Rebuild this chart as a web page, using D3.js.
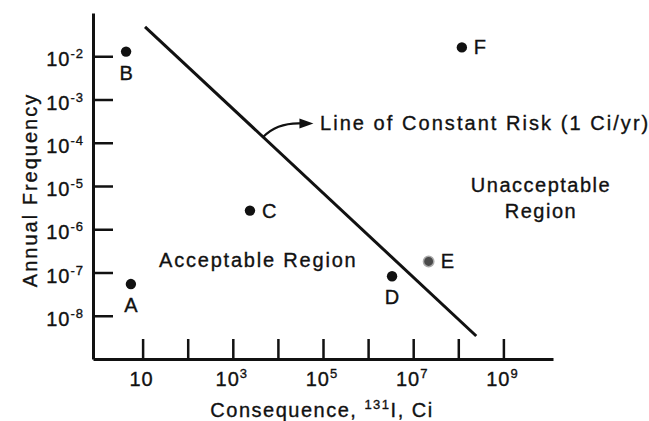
<!DOCTYPE html>
<html>
<head>
<meta charset="utf-8">
<title>Constant risk</title>
<script src="https://cdn.jsdelivr.net/npm/d3@7"></script>
<style>
  body { margin: 0; background: #fff; }
  svg text { font-family: "Liberation Sans", Arial, Helvetica, sans-serif; fill: #111; stroke: #111; stroke-width: 0.35px; }
</style>
</head>
<body>
<svg id="chart" width="649" height="421"></svg>
<script>
// data
var pointNames = ["A", "B", "C", "D", "E", "F"];
var consequence = [5.5, 4.3, 2400, 3.4e6, 2.2e7, 1.2e8];       // Ci
var frequency   = [5.4e-8, 1.28e-2, 2.7e-6, 8.2e-8, 1.8e-7, 1.6e-2]; // per yr
var labelSide   = ["below", "below", "right", "below", "right", "right"];

var riskLineX = [11.3, 2.5e8];
var riskLineY = [4.8e-2, 3.4e-9];

var yTickExp = [-2, -3, -4, -5, -6, -7, -8];
var xTickExp = [1, 2, 3, 4, 5, 6, 7, 8, 9];
var xLabelExp = [1, 3, 5, 7, 9];

var svg = d3.select("#chart");

var x = d3.scaleLog().domain([Math.pow(10, -0.1), Math.pow(10, 10.1)]).range([93, 553]);
var y = d3.scaleLog().domain([1e-9, 1e-1]).range([359, 13]);

/* axes: ticks point inward, labels drawn separately (superscripts) */
var gy = svg.append("g").attr("transform", "translate(93,0)")
  .call(d3.axisLeft(y)
    .tickValues(yTickExp.map(function(e) { return Math.pow(10, e); }))
    .tickSizeInner(-20).tickSizeOuter(0).tickFormat(function() { return ""; }));

var gx = svg.append("g").attr("transform", "translate(0,359)")
  .call(d3.axisBottom(x)
    .tickValues(xTickExp.map(function(e) { return Math.pow(10, e); }))
    .tickSizeInner(-20).tickSizeOuter(0).tickFormat(function() { return ""; }));

svg.selectAll(".domain").attr("stroke", "#111").attr("stroke-width", 3);
svg.selectAll(".tick line").attr("stroke", "#111").attr("stroke-width", 2.5);

// y tick labels
yTickExp.forEach(function(e) {
  var t = svg.append("text")
    .attr("x", 84).attr("y", y(Math.pow(10, e)) + 10)
    .attr("text-anchor", "end")
    .style("font-size", "20px").style("letter-spacing", "1px");
  t.append("tspan").text("10");
  t.append("tspan").attr("dy", -8).style("font-size", "13px").text(String(e));
});

// x tick labels
xLabelExp.forEach(function(e) {
  var t = svg.append("text")
    .attr("x", x(Math.pow(10, e)) - 1).attr("y", 386)
    .attr("text-anchor", "middle")
    .style("font-size", "20px").style("letter-spacing", "1px");
  t.append("tspan").text("10");
  if (e !== 1) t.append("tspan").attr("dy", -8).style("font-size", "13px").text(String(e));
});

// axis titles
svg.append("text")
  .attr("transform", "translate(37,190) rotate(-90)")
  .attr("text-anchor", "middle")
  .style("font-size", "20px").style("letter-spacing", "2px")
  .text("Annual Frequency");

var xt = svg.append("text")
  .attr("x", 322).attr("y", 417)
  .attr("text-anchor", "middle")
  .style("font-size", "20px").style("letter-spacing", "1.5px");
xt.append("tspan").text("Consequence, ");
xt.append("tspan").attr("dy", -8).style("font-size", "13px").text("131");
xt.append("tspan").attr("dy", 8).text("I, Ci");

// line of constant risk
var line = d3.line()
  .x(function(d) { return x(d[0]); })
  .y(function(d) { return y(d[1]); });

svg.append("path")
  .datum(d3.zip(riskLineX, riskLineY))
  .attr("d", line)
  .attr("fill", "none").attr("stroke", "#111").attr("stroke-width", 3);

// annotation arrow from the line to its label
var arrowX = 4700;
var ax0 = x(arrowX), ay0 = y(riskLineY[0] * Math.pow(arrowX / riskLineX[0],
  Math.log(riskLineY[1] / riskLineY[0]) / Math.log(riskLineX[1] / riskLineX[0])));
var ax1 = x(5.0e4), ay1 = y(2.8e-4);

svg.append("path")
  .attr("d", "M" + ax0 + "," + ay0 + " Q" + (ax0 + 14) + "," + (ay1 - 1) + " " + (ax1 - 8) + "," + ay1)
  .attr("fill", "none").attr("stroke", "#111").attr("stroke-width", 2.2);
svg.append("path")
  .attr("d", "M" + (ax1 + 4) + "," + ay1 + " L" + (ax1 - 10) + "," + (ay1 - 5) + " L" + (ax1 - 10) + "," + (ay1 + 5) + "Z")
  .attr("fill", "#111");

svg.append("text")
  .attr("x", 320).attr("y", 130)
  .style("font-size", "20px").style("letter-spacing", "2.05px")
  .text("Line of Constant Risk (1 Ci/yr)");

// region labels
svg.append("text")
  .attr("x", 159).attr("y", 267)
  .style("font-size", "20px").style("letter-spacing", "1.8px")
  .text("Acceptable Region");

svg.append("text")
  .attr("x", 541).attr("y", 192)
  .attr("text-anchor", "middle")
  .style("font-size", "20px").style("letter-spacing", "1.5px")
  .text("Unacceptable");
svg.append("text")
  .attr("x", 541).attr("y", 218)
  .attr("text-anchor", "middle")
  .style("font-size", "20px").style("letter-spacing", "1.5px")
  .text("Region");

// points
var pts = svg.append("g").selectAll("g")
  .data(pointNames.map(function(n, i) {
    return { name: n, cx: consequence[i], fy: frequency[i], side: labelSide[i] };
  }))
  .enter().append("g");

pts.append("circle")
  .attr("cx", function(d) { return x(d.cx); })
  .attr("cy", function(d) { return y(d.fy); })
  .attr("r", 5.2)
  .attr("fill", function(d) { return d.name === "E" ? "#4a4a4a" : "#111"; })
  .attr("stroke", function(d) { return d.name === "E" ? "#aaa" : "none"; })
  .attr("stroke-width", 1.5);

pts.append("text")
  .attr("x", function(d) { return d.side === "below" ? x(d.cx) : x(d.cx) + 12; })
  .attr("y", function(d) { return d.side === "below" ? y(d.fy) + 28 : y(d.fy) + 7; })
  .attr("text-anchor", function(d) { return d.side === "below" ? "middle" : "start"; })
  .style("font-size", "20px")
  .text(function(d) { return d.name; });
</script>
</body>
</html>
